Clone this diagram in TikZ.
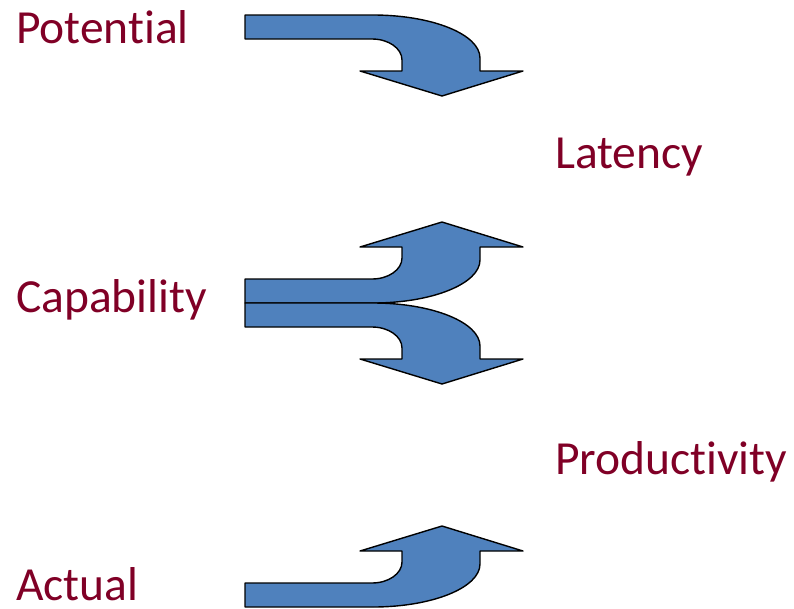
\documentclass[tikz,border=0pt]{standalone}
\usepackage{fontspec}
\setmainfont{Carlito}[Ligatures=NoCommon]
\definecolor{lbl}{RGB}{128,0,38}
\definecolor{arrowblue}{RGB}{79,129,189}
\tikzset{
  lab/.style={text=lbl, font=\fontsize{47.5}{57}\selectfont, inner sep=0pt, anchor=base west},
  bentarrow/.style={fill=arrowblue, draw=black, line width=1.4pt, line join=round},
  pics/bent/.style={code={
    \path[bentarrow] (0,0) -- (128,0) .. controls (187.1,0) and (235,19.3) .. (235,43)
      -- (235,56) -- (278,56) -- (197,81) -- (115,56) -- (157,56) -- (157,45)
      .. controls (157,33.4) and (143.6,24) .. (127,24) -- (0,24) -- cycle;
  }}
}
\begin{document}
\begin{tikzpicture}[x=1pt,y=-1pt]
\useasboundingbox (0,0) rectangle (794,608);
\node[lab] (pot) at (16,43) {Potential};
\node[lab] (lat) at (555,168) {Latency};
\node[lab] (cap) at (16,312) {Capability};
\node[lab] (prod) at (555,474) {Productivity};
\node[lab] (act) at (16,600) {Actual};
\pic at (245,15) {bent};
\pic[yscale=-1] at (245,303) {bent};
\pic at (245,303) {bent};
\pic[yscale=-1] at (245,607) {bent};
\end{tikzpicture}
\end{document}
